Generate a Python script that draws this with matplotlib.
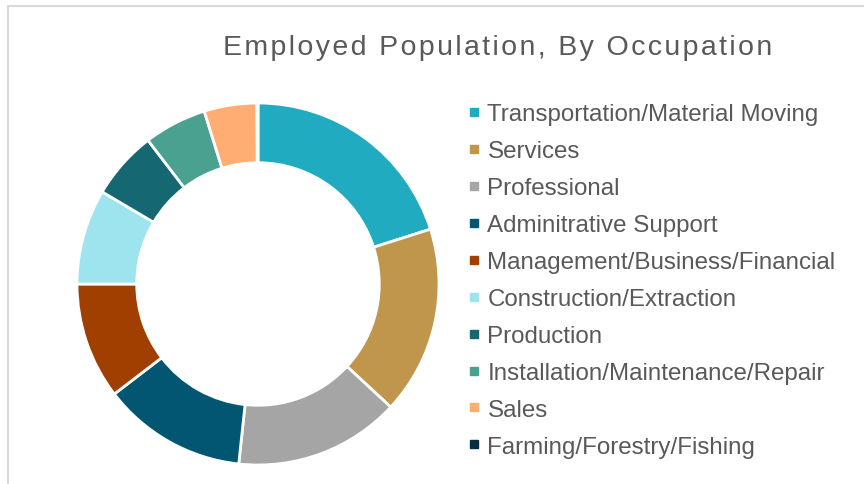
import matplotlib.pyplot as plt
from matplotlib.lines import Line2D
from matplotlib.patches import Rectangle

plt.rcParams['font.family'] = ['Liberation Sans', 'DejaVu Sans']

# Employed population by occupation (share, %)
occupations = ['Transportation/Material Moving', 'Services', 'Professional',
               'Adminitrative Support', 'Management/Business/Financial',
               'Construction/Extraction', 'Production',
               'Installation/Maintenance/Repair', 'Sales',
               'Farming/Forestry/Fishing']
shares = [20.1, 16.8, 14.8, 12.9, 10.4, 8.5, 6.1, 5.6, 4.7, 0.1]
colors = ['#21ABC0', '#C0964C', '#A5A5A5', '#025672', '#A03F00',
          '#9DE4EE', '#156872', '#4BA190', '#FFAD72', '#032F3E']

text_color = '#595959'

fig = plt.figure(figsize=(8.64, 4.85), dpi=100)

# chart area border
fig.patches.append(Rectangle((8 / 864, -0.1), 1.1, 1.1 - 7 / 485,
                             transform=fig.transFigure, fill=False,
                             edgecolor='#D9D9D9', linewidth=1.5))

ax = fig.add_axes([77 / 864, 19 / 485, 362 / 864, 362 / 485])
ax.pie(shares, colors=colors, startangle=90, counterclock=False, radius=1,
       wedgeprops=dict(width=0.33, edgecolor='white', linewidth=2))
ax.set_xlim(-1, 1)
ax.set_ylim(-1, 1)
ax.set_aspect('equal')

title = '\u200a'.join('Employed Population, By Occupation')
fig.text(498 / 864, 1 - 48 / 485, title, ha='center', va='center',
         fontsize=20.5, color=text_color)

handles = [Line2D([], [], marker='s', linestyle='none', markersize=6,
                  markerfacecolor=c, markeredgecolor=c) for c in colors]
leg = fig.legend(handles, occupations, loc='upper left',
                 bbox_to_anchor=(456 / 864, 1 - 92 / 485), frameon=False,
                 fontsize=17.4, labelcolor=text_color, handlelength=0.5,
                 handletextpad=0.3, labelspacing=0.62, borderpad=0)

fig.savefig('out.png', dpi=100)
